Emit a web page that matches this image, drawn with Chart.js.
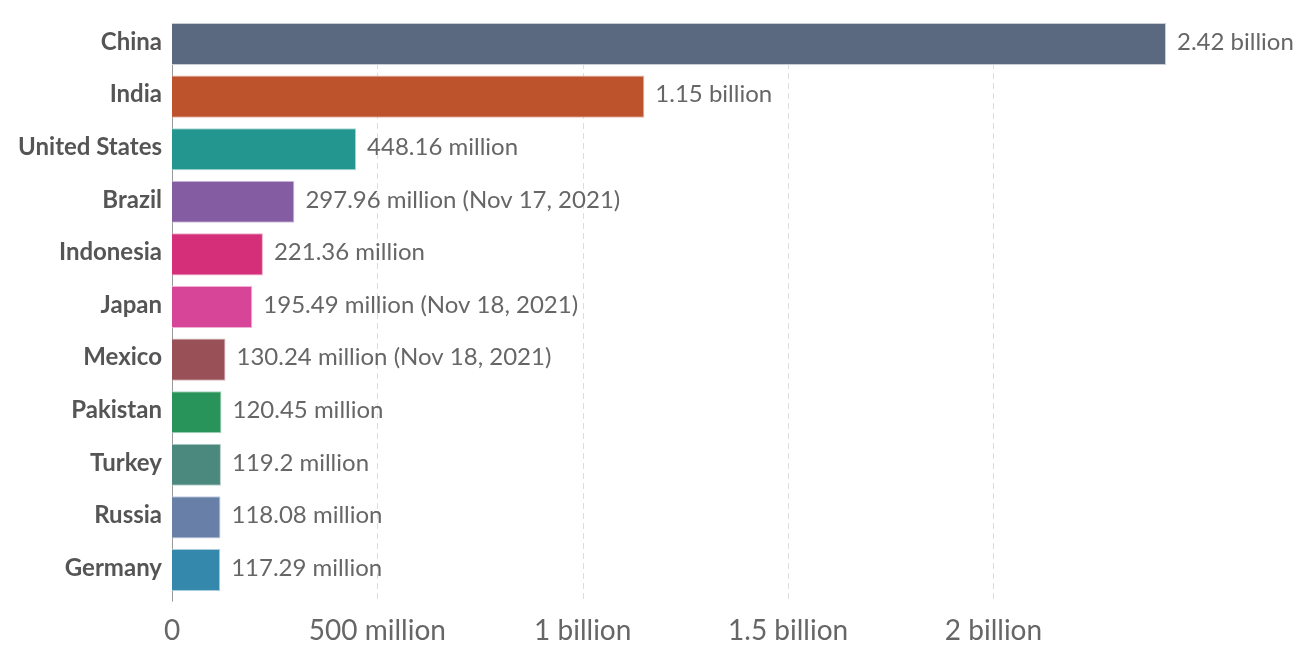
<!DOCTYPE html>
<html>
<head>
<meta charset="utf-8">
<script src="https://cdn.jsdelivr.net/npm/chart.js@4"></script>
<style>
html,body{margin:0;padding:0;background:#fff;}
#wrap{width:1308px;height:654px;position:relative;}
</style>
</head>
<body>
<div id="wrap"><canvas id="c"></canvas></div>
<script>
const categories = ["China","India","United States","Brazil","Indonesia","Japan","Mexico","Pakistan","Turkey","Russia","Germany"];
const values = [2.42e9, 1.15e9, 448.16e6, 297.96e6, 221.36e6, 195.49e6, 130.24e6, 120.45e6, 119.2e6, 118.08e6, 117.29e6];
const valueLabels = ["2.42 billion","1.15 billion","448.16 million","297.96 million (Nov 17, 2021)","221.36 million","195.49 million (Nov 18, 2021)","130.24 million (Nov 18, 2021)","120.45 million","119.2 million","118.08 million","117.29 million"];
const tickValues = [0, 5e8, 1e9, 1.5e9, 2e9];
const tickLabels = ["0","500 million","1 billion","1.5 billion","2 billion"];
const barColors = ["#5a6880","#bd532d","#23968f","#835ca1","#d52f7a","#d64597","#9a5057","#28945a","#4b897e","#6880a8","#3388ab"];
const borderColors = ["#c9ced8","#e4b9a9","#a9d6d3","#d0c0dc","#eeacc9","#eeb1d4","#d3b6b9","#a9d4bd","#b7d0cc","#c3cde0","#a9cfdf"];

const gridPlugin = {
  id: 'gridPlugin',
  beforeDatasetsDraw(chart) {
    const {ctx} = chart;
    const x = chart.scales.x, y = chart.scales.y;
    const pitch = y.getPixelForValue(1) - y.getPixelForValue(0);
    const top = y.getPixelForValue(0) - pitch/2 + 5.3;
    const bottom = y.getPixelForValue(categories.length-1) + pitch/2 + 5.3;
    ctx.save();
    ctx.lineWidth = 1;
    ctx.strokeStyle = '#dddddd';
    ctx.setLineDash([6,4]);
    tickValues.forEach(v => {
      if (v === 0) return;
      const px = Math.round(x.getPixelForValue(v)) + 0.5;
      ctx.beginPath(); ctx.moveTo(px, top); ctx.lineTo(px, bottom); ctx.stroke();
    });
    ctx.setLineDash([]);
    ctx.strokeStyle = '#999999';
    const px0 = Math.round(x.getPixelForValue(0)) + 0.5;
    ctx.beginPath(); ctx.moveTo(px0, top); ctx.lineTo(px0, bottom); ctx.stroke();
    ctx.restore();
  },
  afterDatasetsDraw(chart) {
    const {ctx} = chart;
    const meta = chart.getDatasetMeta(0);
    ctx.save();
    ctx.font = '24px Lato';
    ctx.fillStyle = '#666666';
    ctx.textAlign = 'left';
    ctx.textBaseline = 'middle';
    meta.data.forEach((bar, i) => {
      ctx.fillText(valueLabels[i], bar.x + 11, bar.y - 2);
    });
    ctx.restore();
  }
};

new Chart(document.getElementById('c'), {
  type: 'bar',
  data: {
    labels: categories,
    datasets: [{
      data: values,
      backgroundColor: barColors,
      borderColor: borderColors,
      borderWidth: 1,
      barPercentage: 0.8,
      categoryPercentage: 1.0
    }]
  },
  options: {
    indexAxis: 'y',
    responsive: true,
    maintainAspectRatio: false,
    animation: false,
    layout: { padding: { top: 17.7, right: 142, bottom: 0, left: 0 } },
    plugins: { legend: { display: false }, tooltip: { enabled: false } },
    scales: {
      x: {
        type: 'linear',
        min: 0,
        max: 2.42e9,
        afterBuildTicks(scale) { scale.ticks = tickValues.map(v => ({value: v})); },
        afterFit(scale) { scale.height = 57.7; scale.paddingLeft = 0; scale.paddingRight = 0; },
        grid: { display: false, drawTicks: false },
        border: { display: false },
        ticks: {
          padding: 18,
          color: '#666666',
          font: { family: 'Lato', size: 28 },
          callback(v) { const i = tickValues.indexOf(v); return i >= 0 ? tickLabels[i] : ''; },
          maxRotation: 0, autoSkip: false
        }
      },
      y: {
        afterFit(scale) { scale.width = 172; scale.paddingTop = 0; scale.paddingBottom = 0; },
        grid: { display: false, drawTicks: false },
        border: { display: false },
        ticks: {
          padding: 10,
          labelOffset: -2,
          color: '#555555',
          font: { family: 'Lato', size: 24, weight: 'bold' },
          autoSkip: false
        }
      }
    }
  },
  plugins: [gridPlugin]
});
</script>
</body>
</html>
